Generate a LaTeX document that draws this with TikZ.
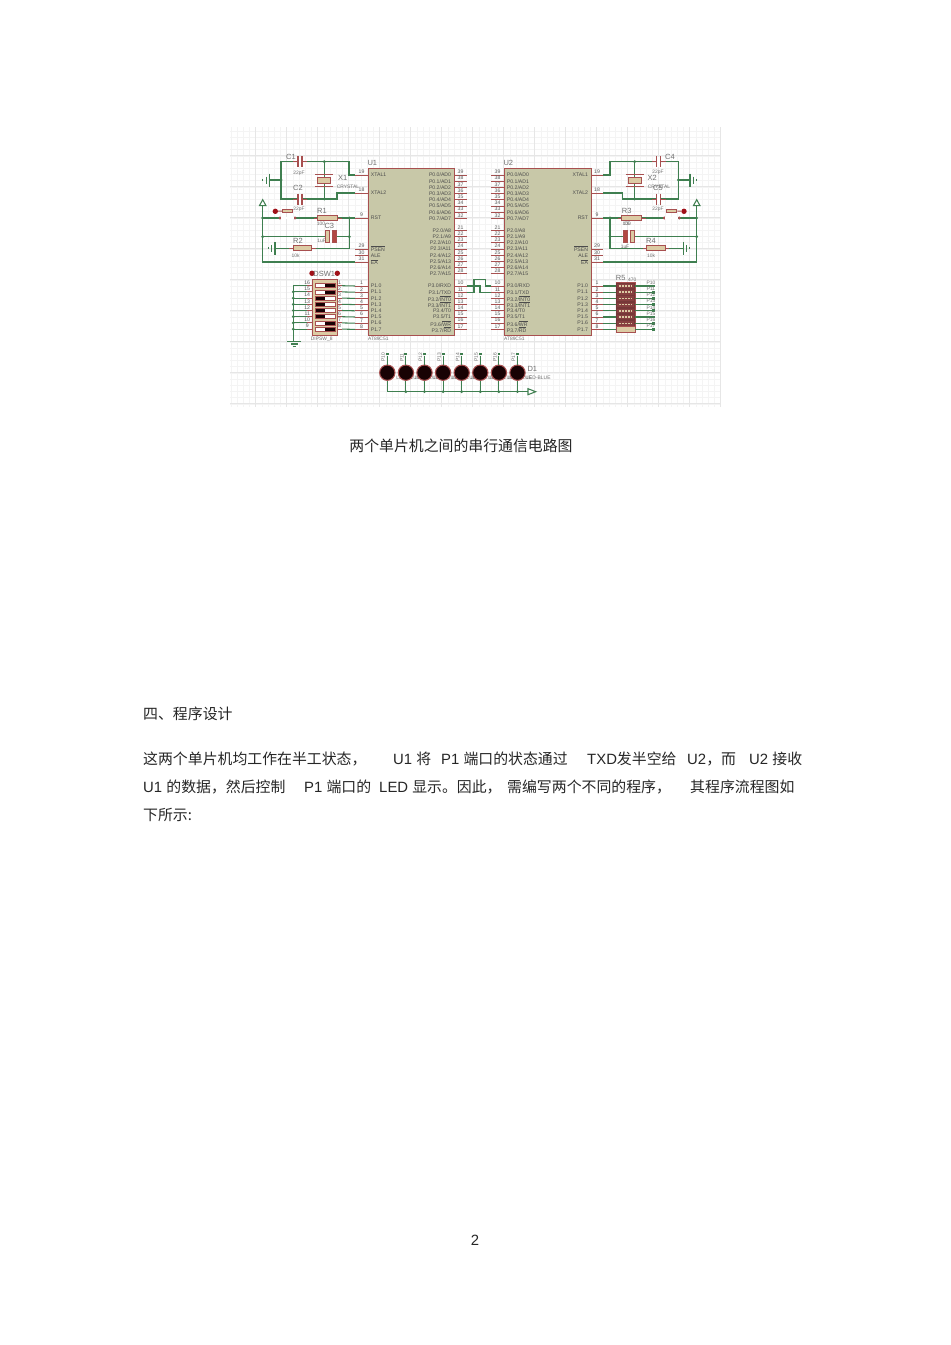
\documentclass[tikz,border=0pt]{standalone}
\usepackage{fontspec}
\setmainfont{Liberation Sans}
\newfontfamily\cjk{Noto Sans CJK SC}
\usetikzlibrary{calc}
\definecolor{wirec}{HTML}{3F7F50}
\definecolor{pinc}{HTML}{A85050}
\definecolor{chipc}{HTML}{C8C8A8}
\definecolor{tanc}{HTML}{DCCBA4}
\definecolor{dotc}{HTML}{A01018}
\definecolor{labc}{HTML}{707070}
\definecolor{gridc}{HTML}{F4F4F4}
\definecolor{gridm}{HTML}{E6E6E6}
\tikzset{
  wire/.style={color=wirec,line width=0.9pt},
  pinl/.style={color=pinc,line width=0.85pt},
  plate/.style={color=pinc,line width=1.1pt},
  chip/.style={draw=pinc,fill=chipc,line width=1.1pt,anchor=north west,inner sep=0pt},
  res/.style={draw=pinc,fill=tanc,line width=0.85pt,inner sep=0pt},
  jn/.style={fill=wirec,circle,inner sep=0pt,minimum size=2.6pt},
  rdot/.style={fill=dotc,circle,inner sep=0pt,minimum size=4.6pt},
  plab/.style={font=\fontsize{4.4}{5}\selectfont,text=black!70,inner ysep=0pt,inner xsep=2.3pt},
  pnum/.style={font=\fontsize{4.4}{5}\selectfont,text=black!65,inner sep=0.6pt,above},
  compname/.style={font=\fontsize{6.4}{7}\selectfont,text=labc,inner sep=0pt},
  compval/.style={font=\fontsize{4.2}{5}\selectfont,text=labc,inner sep=0pt},
  body/.style={font=\fontsize{12.7}{15}\selectfont,text=black!85,inner sep=0pt,anchor=west},
  led/.style={circle,draw=pinc,fill=black!85!dotc,line width=0.9pt,inner sep=0pt,minimum size=0.46cm},
}
% pin: name, chip x, end x, y, number, label, label anchor
\newcommand{\pinrow}[7]{%
  \coordinate (#1c) at (#2,#4) ;
  \coordinate (#1) at (#3,#4) ;
  \draw[pinl] (#1c) -- (#1) node[pnum,midway] (#1n) {#5} ;
  \node[plab,anchor=#7] (#1t) at (#1c) {#6} ;
}
% horizontal capacitor on a wire
\newcommand{\caph}[3]{%
  \coordinate (#1) at (#2,#3) ;
  \draw[pinl] ($(#1)+(-7,0)$) -- ($(#1)+(7,0)$) ;
  \fill[white] ($(#1)+(-2,-5)$) rectangle ($(#1)+(2,5)$) ;
  \draw[plate] ($(#1)+(-2,-5.5)$) -- ($(#1)+(-2,5.5)$) ;
  \draw[plate] ($(#1)+(2,-5.5)$) -- ($(#1)+(2,5.5)$) ;
}
% resistor: name, x, y, width
\newcommand{\resh}[4]{%
  \draw[pinl] (#2-#4/2-4,#3) -- (#2+#4/2+4,#3) ;
  \node[res,minimum width=#4*0.03cm,minimum height=0.16cm] (#1) at (#2,#3) {} ;
}
% crystal on a vertical wire
\newcommand{\xtal}[2]{%
  \draw[pinl] (#2-9,174.3) -- (#2+9,174.3) ;
  \draw[pinl] (#2-9,186) -- (#2+9,186) ;
  \node[res,minimum width=0.38cm,minimum height=0.16cm] (#1) at (#2,180.6) {} ;
}
% push button: name, left pin, right pin, dot x
\newcommand{\pushb}[4]{%
  \node[res,minimum width=0.3cm,minimum height=0.07cm] (#1) at ({(#2+#3)/2},211) {} ;
  \node[rdot] (#1d) at (#4,211.3) {} ;
  \draw[pinl] (#1d) -- (#1) ;
  \node[fill=pinc,circle,inner sep=0pt,minimum size=2.8pt] (#1a) at (#2,218) {} ;
  \node[fill=pinc,circle,inner sep=0pt,minimum size=2.8pt] (#1b) at (#3,218) {} ;
}
% ground symbol: name, x, y, direction
\newcommand{\gndv}[4]{%
  \coordinate (#1) at (#2,#3) ;
  \draw[wire,line width=1.1pt] ($(#1)+(0,-6.5)$) -- ($(#1)+(0,6.5)$) ;
  \draw[wire] ($(#1)+(#4*3.3,-3.5)$) -- ($(#1)+(#4*3.3,3.5)$) ;
  \draw[wire] ($(#1)+(#4*6.6,-1)$) -- ($(#1)+(#4*6.6,1)$) ;
}
\begin{document}
\begin{tikzpicture}[x=0.03cm,y=-0.03cm]
  \useasboundingbox (0,0) rectangle (950,1345) ;
  \fill[white] (0,0) rectangle (950,1345) ;
  % the sheet grid
  \foreach \i in {0,...,78} {
    \draw[color=gridc,line width=0.4pt] (230.9+6.2*\i,127) -- (230.9+6.2*\i,407) ;
  }
  \foreach \i in {0,...,44} {
    \draw[color=gridc,line width=0.4pt] (230,131+6.2*\i) -- (720,131+6.2*\i) ;
  }
  \foreach \i in {0,...,15} {
    \draw[color=gridm,line width=0.4pt] (255.7+31*\i,127) -- (255.7+31*\i,407) ;
  }
  \foreach \i in {0,...,8} {
    \draw[color=gridm,line width=0.4pt] (230,155.7+31*\i) -- (720,155.7+31*\i) ;
  }

  % chips
  \node[chip,minimum width=2.58cm,minimum height=5.01cm] (U1) at (368,168) {} ;
  \node[chip,minimum width=2.61cm,minimum height=5.01cm] (U2) at (504,168) {} ;
  \node[compname] (U1t) at (372.3,163.3) {U1} ;
  \node[compname] (U2t) at (508.3,163.3) {U2} ;
  \node[compval] (U1v) at (378.3,339) {AT89C51} ;
  \node[compval] (U2v) at (514.3,339) {AT89C51} ;

  % pins of both chips
  \pinrow{U1xa}{368}{355}{175}{19}{XTAL1}{west}
  \pinrow{U1xb}{368}{355}{193}{18}{XTAL2}{west}
  \pinrow{U1rst}{368}{355}{218}{9}{RST}{west}
  \pinrow{U1psen}{368}{355}{249}{29}{$\overline{\hbox{PSEN}}$}{west}
  \pinrow{U1ale}{368}{355}{255.5}{30}{ALE}{west}
  \pinrow{U1ea}{368}{355}{262}{31}{$\overline{\hbox{EA}}$}{west}
  \pinrow{U2xa}{591}{603}{175}{19}{XTAL1}{east}
  \pinrow{U2xb}{591}{603}{193}{18}{XTAL2}{east}
  \pinrow{U2rst}{591}{603}{218}{9}{RST}{east}
  \pinrow{U2psen}{591}{603}{249}{29}{$\overline{\hbox{PSEN}}$}{east}
  \pinrow{U2ale}{591}{603}{255.5}{30}{ALE}{east}
  \pinrow{U2ea}{591}{603}{262}{31}{$\overline{\hbox{EA}}$}{east}
  \foreach \i in {0,...,7} {
    \pgfmathtruncatemacro\pnu{39-\i}
    \pgfmathtruncatemacro\pmu{21+\i}
    \pgfmathtruncatemacro\pau{8+\i}
    \pgfmathtruncatemacro\pcu{1+\i}
    \pgfmathsetmacro\ya{175+6.2*\i}
    \pgfmathsetmacro\yb{230.5+6.2*\i}
    \pgfmathsetmacro\yc{286+6.2*\i}
    \pinrow{U1a\i}{454}{467}{\ya}{\pnu}{P0.\i/AD\i}{east}
    \pinrow{U1b\i}{454}{467}{\yb}{\pmu}{P2.\i/A\pau}{east}
    \pinrow{U2a\i}{504}{491}{\ya}{\pnu}{P0.\i/AD\i}{west}
    \pinrow{U2b\i}{504}{491}{\yb}{\pmu}{P2.\i/A\pau}{west}
    \pinrow{U1p\i}{368}{355}{\yc}{\pcu}{P1.\i}{west}
    \pinrow{U2p\i}{591}{603}{\yc}{\pcu}{P1.\i}{east}
  }
  \foreach \i/\lab in {0/{P3.0/RXD},1/{P3.1/TXD},2/{P3.2/$\overline{\hbox{INT0}}$},3/{P3.3/$\overline{\hbox{INT1}}$},%
      4/{P3.4/T0},5/{P3.5/T1},6/{P3.6/$\overline{\hbox{WR}}$},7/{P3.7/$\overline{\hbox{RD}}$}} {
    \pgfmathtruncatemacro\pdu{10+\i}
    \pgfmathsetmacro\yc{286+6.2*\i}
    \pinrow{U1q\i}{454}{467}{\yc}{\pdu}{\lab}{east}
    \pinrow{U2q\i}{504}{491}{\yc}{\pdu}{\lab}{west}
  }

  % the serial link
  \draw[wire] (U2q0) -- (485.7,286) -- (485.7,279.7) -- (474,279.7) -- (474,292.2) -- (U1q1) ;
  \draw[wire] (U2q1) -- (480,292.2) -- (480,286) -- (U1q0) ;

  % U1 clock
  \coordinate (U1cl) at (281,161.7) ;
  \coordinate (U1cr) at (349,161.7) ;
  \coordinate (U1dl) at (281,199) ;
  \coordinate (U1dr) at (337,199) ;
  \draw[wire] (U1xa) -- (349,175) -- (U1cr) -- (U1cl) -- (U1dl) -- (U1dr) -- (337,193) -- (U1xb) ;
  \draw[wire] (324.3,161.7) -- (324.3,199) ;
  \draw[wire] (281,180) -- (269.5,180) ;
  \gndv{G1}{269.5}{180}{-1}
  \caph{C1}{300}{161.7}
  \caph{C2}{300}{199}
  \xtal{X1}{324.3}
  \node[jn] (j1) at (324.3,161.7) {} ;
  \node[jn] (j2) at (324.3,199) {} ;
  \node[jn] (j3) at (281,180) {} ;
  \node[compname] (C1t) at (291,157) {C1} ;
  \node[compname] (C2t) at (298,188) {C2} ;
  \node[compval] (C1v) at (299,173) {22pF} ;
  \node[compval] (C2v) at (299,209) {22pF} ;
  \node[compname] (X1t) at (342.6,178) {X1} ;
  \node[compval] (X1v) at (348,186.7) {CRYSTAL} ;

  % U1 reset
  \coordinate (V1) at (262.7,205.7) ;
  \draw[wire,fill=white] (V1) ++(-3.3,0) -- ++(6.6,0) -- (262.7,199.7) -- cycle ;
  \draw[wire] (V1) -- (262.7,262) -- (U1ea) ;
  \draw[wire] (262.7,218) -- (U1rst) ;
  \draw[wire] (262.7,236.7) -- (349.3,236.7) ;
  \draw[wire] (349.3,218) -- (349.3,248.3) -- (275,248.3) ;
  \pushb{B1}{280}{295}{275.3}
  \fill[white] (281,217) rectangle (294,219) ;
  \resh{R1}{327.7}{218}{20}
  \resh{R2}{302.5}{248.3}{18.5}
  \gndv{G2}{275}{248.3}{-1}
  \fill[white] (327,231) rectangle (332.5,242) ;
  \draw[pinl,fill=tanc] (325,230.3) rectangle (329,242.7) ;
  \draw[pinl,fill=dotc!70!tanc] (332.3,230.3) rectangle (336,242.7) ;
  \node[jn] (j4) at (262.7,218) {} ;
  \node[jn] (j5) at (262.7,236.7) {} ;
  \node[jn] (j6) at (349.3,218) {} ;
  \node[jn] (j7) at (349.3,236.7) {} ;
  \node[compname] (R1t) at (322,210.7) {R1} ;
  \node[compname] (R2t) at (298,241.3) {R2} ;
  \node[compname] (C3t) at (329.3,225.7) {C3} ;
  \node[compval] (R1v) at (321,224) {100} ;
  \node[compval] (R2v) at (295.7,255.7) {10k} ;
  \node[compval] (C3v) at (321.7,240.7) {1uF} ;

  % U2 clock
  \draw[wire] (U2xa) -- (610,175) -- (610,161.7) -- (678.3,161.7) -- (678.3,199) -- (622.7,199) -- (622.7,193) -- (U2xb) ;
  \draw[wire] (634.7,161.7) -- (634.7,199) ;
  \draw[wire] (678.3,180) -- (690,180) ;
  \gndv{G3}{690}{180}{1}
  \caph{C4}{658.7}{161.7}
  \caph{C5}{658.7}{199}
  \xtal{X2}{634.7}
  \node[jn] (j8) at (634.7,161.7) {} ;
  \node[jn] (j9) at (634.7,199) {} ;
  \node[jn] (j10) at (678.3,180) {} ;
  \node[compname] (C4t) at (670,157) {C4} ;
  \node[compname] (C5t) at (658,188) {C5} ;
  \node[compval] (C4v) at (658,172.7) {22pF} ;
  \node[compval] (C5v) at (658,209) {22pF} ;
  \node[compname] (X2t) at (652.3,178.3) {X2} ;
  \node[compval] (X2v) at (659,186.7) {CRYSTAL} ;

  % U2 reset
  \coordinate (V2) at (696.7,205.7) ;
  \draw[wire,fill=white] (V2) ++(-3.3,0) -- ++(6.6,0) -- (696.7,199.7) -- cycle ;
  \draw[wire] (V2) -- (696.7,262) -- (U2ea) ;
  \draw[wire] (696.7,218) -- (U2rst) ;
  \draw[wire] (610,236.7) -- (696.7,236.7) ;
  \draw[wire] (610,218) -- (610,248.3) -- (683.3,248.3) ;
  \pushb{B2}{664.3}{679.3}{684}
  \fill[white] (665.3,217) rectangle (678.3,219) ;
  \resh{R3}{631.7}{218}{20}
  \resh{R4}{656.2}{248.3}{18.5}
  \gndv{G4}{683.3}{248.3}{1}
  \fill[white] (627,231) rectangle (630.5,242) ;
  \draw[pinl,fill=dotc!70!tanc] (623.3,230.3) rectangle (627.3,242.7) ;
  \draw[pinl,fill=tanc] (630,230.3) rectangle (634,242.7) ;
  \node[jn] (j11) at (696.7,218) {} ;
  \node[jn] (j12) at (696.7,236.7) {} ;
  \node[jn] (j13) at (610,218) {} ;
  \node[jn] (j14) at (610,236.7) {} ;
  \node[compname] (R3t) at (626.7,210.7) {R3} ;
  \node[compname] (R4t) at (651,241.3) {R4} ;
  \node[compval] (R3v) at (626.7,224.3) {100} ;
  \node[compval] (C6t) at (626.7,224.3) {C6} ;
  \node[compval] (R4v) at (651,255.7) {10k} ;
  \node[compval] (C6v) at (625,246.7) {1uF} ;

  % DIP switch
  \node[res,line width=1pt,anchor=north west,minimum width=0.768cm,minimum height=1.68cm] (DSW1) at (311.7,279.3) {} ;
  \node[rdot] (DSW1a) at (312,273.3) {} ;
  \node[rdot] (DSW1b) at (337.3,273.3) {} ;
  \node[compname] (DSW1t) at (324.3,274.3) {DSW1} ;
  \node[compval] (DSW1v) at (321.7,339) {DIPSW\_8} ;
  \coordinate (SWg) at (293.3,341.3) ;
  \draw[wire] (293.3,285.7) -- (SWg) ;
  \draw[wire] (287.3,341.3) -- (300.7,341.3) ;
  \draw[wire] (291,344) -- (297.7,344) ;
  \draw[wire] (292.7,346.7) -- (295.7,346.7) ;
  \foreach \i/\s in {0/1,1/1,2/0,3/0,4/0,5/0,6/1,7/1} {
    \pgfmathsetmacro\y{285.7+6.2*\i}
    \pgfmathtruncatemacro\nlf{16-\i}
    \pgfmathtruncatemacro\nrg{1+\i}
    \coordinate (SWl\i) at (306.7,\y) ;
    \coordinate (SWr\i) at (342,\y) ;
    \draw[wire] (293.3,\y) -- (SWl\i) ;
    \draw[pinl] (SWl\i) -- (311.7,\y) node[pnum,pos=0.1] (SWn\i) {\nlf} ;
    \draw[pinl] (337.3,\y) -- (SWr\i) node[pnum,midway] (SWm\i) {\nrg} ;
    \draw[wire] (SWr\i) -- (U1p\i) ;
    \fill[white] (315,\y-2) rectangle (335,\y+2) ;
    \ifnum\s=1
      \fill[black!85!dotc] (325,\y-2) rectangle (335,\y+2) ;
    \else
      \fill[black!85!dotc] (315,\y-2) rectangle (325,\y+2) ;
    \fi
    \draw[color=pinc,line width=0.4pt] (315,\y-2) rectangle (335,\y+2) ;
    \ifnum\i>0
      \node[jn] (SWj\i) at (293.3,\y) {} ;
    \fi
  }

  % resistor pack
  \node[res,line width=1pt,anchor=north west,minimum width=0.57cm,minimum height=1.5cm] (R5) at (616,281.7) {} ;
  \node[compname] (R5t) at (620.7,278.3) {R5} ;
  \node[compval] (R5v) at (632.3,279.7) {470} ;
  \foreach \i in {0,...,7} {
    \pgfmathsetmacro\y{286+6.2*\i}
    \pgfmathtruncatemacro\pbu{10+\i}
    \coordinate (R5r\i) at (653.3,\y) ;
    \draw[wire] (U2p\i) -- (616,\y) ;
    \draw[wire] (635,\y) -- (R5r\i) ;
    \node[jn,rectangle,minimum size=2.4pt] (R5j\i) at (R5r\i) {} ;
    \node[compval] (R5p\i) at (651,\y-3.4) {P\pbu} ;
    \ifnum\i<7
      \draw[color=pinc!70!black,fill=pinc!80!black,line width=0.5pt] (616.5,\y-2.7) rectangle (634.5,\y+2.7) ;
      \draw[color=tanc,line width=1.2pt,dash pattern=on 2pt off 0.5pt] (619,\y) -- (632,\y) ;
    \else
      \draw[color=pinc,line width=0.8pt] (616,\y-2.7) -- (635,\y-2.7) ;
    \fi
  }

  % LED row
  \foreach \i in {0,...,7} {
    \node[compval] (Lv\i) at (387.3+18.6*\i+21,377.7) {LED-BLUE} ;
  }
  \coordinate (Lg) at (528,391.7) ;
  \draw[wire] (387.3,391.7) -- (Lg) ;
  \draw[wire,fill=white] (Lg) ++(0,-3) -- ++(7.7,3) -- ++(-7.7,3) -- cycle ;
  \foreach \i in {0,...,7} {
    \pgfmathsetmacro\x{387.3+18.6*\i}
    \pgfmathtruncatemacro\pbu{10+\i}
    \node[led] (D\i) at (\x,372.7) {} ;
    \node[jn,rectangle,minimum size=2.4pt] (Lt\i) at (\x,354) {} ;
    \draw[wire] (Lt\i) -- (D\i) ;
    \coordinate (Lb\i) at (\x,391.7) ;
    \draw[wire] (D\i) -- (Lb\i) ;
    \node[compval,rotate=90] (Lp\i) at (\x-4,357.5) {P\pbu} ;
    \ifnum\i>0
      \node[jn] (Lj\i) at (Lb\i) {} ;
    \fi
  }
  \node[compname] (D1t) at (532.3,369.3) {D1} ;

  % page text
  \node[body,anchor=center] (cap) at (461,445.5) {\cjk 两个单片机之间的串行通信电路图} ;
  \node[body] (sec) at (143,714) {\cjk 四、程序设计} ;
  \node[body] (a1) at (143,759) {\cjk 这两个单片机均工作在半工状态，} ;
  \node[body] (a2) at (393,759) {U1 {\cjk 将}} ;
  \node[body] (a3) at (441,759) {P1 {\cjk 端口的状态通过}} ;
  \node[body] (a4) at (587,759) {TXD{\cjk 发半空给}} ;
  \node[body] (a5) at (687,759) {U2{\cjk ，而}} ;
  \node[body] (a6) at (749,759) {U2 {\cjk 接收}} ;
  \node[body] (b1) at (143,787) {U1 {\cjk 的数据，然后控制}} ;
  \node[body] (b2) at (304,787) {P1 {\cjk 端口的}} ;
  \node[body] (b3) at (379,787) {LED {\cjk 显示。因此，}} ;
  \node[body] (b4) at (507,787) {\cjk 需编写两个不同的程序，} ;
  \node[body] (b5) at (690,787) {\cjk 其程序流程图如} ;
  \node[body] (c1) at (143,815) {\cjk 下所示:} ;
  \node[body,anchor=center] (pg) at (475,1240) {2} ;
\end{tikzpicture}
\end{document}
